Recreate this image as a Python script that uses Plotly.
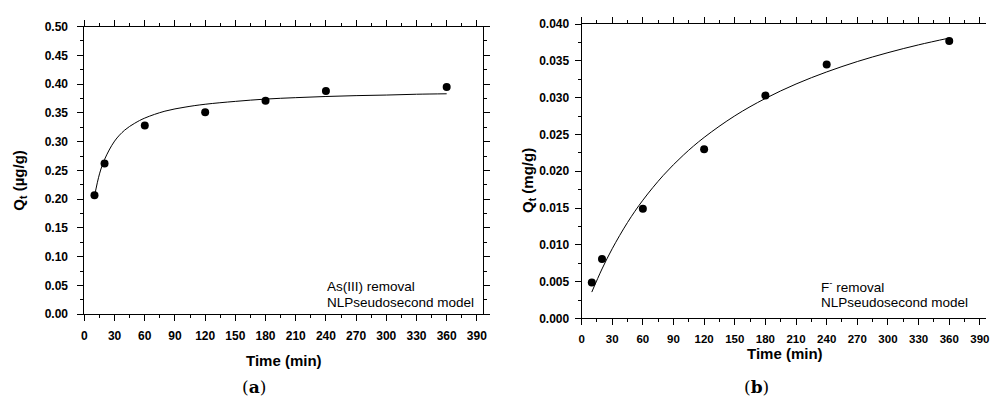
import plotly.graph_objects as go

# ---- data ----
t_pts = [10, 20, 60, 120, 180, 240, 360]
q_as = [0.207, 0.262, 0.328, 0.351, 0.371, 0.388, 0.395]
q_f = [0.0049, 0.0081, 0.0149, 0.0230, 0.0303, 0.0345, 0.0377]

t_fit = [10, 15, 20, 30, 40, 50, 60, 80, 100, 120, 150, 180, 210, 240, 270, 300, 330, 360]
q_as_fit = [0.205, 0.244, 0.269, 0.301, 0.320, 0.332, 0.341, 0.353, 0.360, 0.365, 0.370,
            0.374, 0.3765, 0.3785, 0.380, 0.381, 0.3824, 0.3832]
t_fit_f = [10, 20, 30, 45, 60, 80, 100, 120, 150, 180, 210, 240, 270, 300, 330, 360]
q_f_fit = [0.00359, 0.00673, 0.00948, 0.01305, 0.01607, 0.01944, 0.02224, 0.02460, 0.02753,
           0.0299, 0.03186, 0.0335, 0.03491, 0.03612, 0.03718, 0.0381]

x_ticks = list(range(0, 391, 30))

W, H = 990, 403
SANS = "Liberation Sans"

fig = go.Figure()
fig.add_trace(go.Scatter(x=t_fit, y=q_as_fit, mode="lines", line=dict(color="black", width=1, shape="spline"),
                         xaxis="x", yaxis="y", showlegend=False, hoverinfo="skip"))
fig.add_trace(go.Scatter(x=t_pts, y=q_as, mode="markers", marker=dict(color="black", size=8),
                         xaxis="x", yaxis="y", showlegend=False))
fig.add_trace(go.Scatter(x=t_fit_f, y=q_f_fit, mode="lines", line=dict(color="black", width=1, shape="spline"),
                         xaxis="x2", yaxis="y2", showlegend=False, hoverinfo="skip"))
fig.add_trace(go.Scatter(x=t_pts, y=q_f, mode="markers", marker=dict(color="black", size=8),
                         xaxis="x2", yaxis="y2", showlegend=False))

def tf(size):
    return dict(family=SANS, size=size, color="black", weight="bold")

def xax(domain, anchor, fsize):
    return dict(domain=domain, anchor=anchor, range=[0, 396], tickmode="array", tickvals=x_ticks,
                showline=True, linecolor="black", linewidth=1, mirror="ticks",
                ticks="outside", ticklen=6, tickcolor="black", tickwidth=1,
                minor=dict(ticks="outside", ticklen=3, dtick=15, tick0=0, tickcolor="black"),
                showgrid=False, zeroline=False, tickfont=tf(fsize), ticklabelstandoff=4)

def yax(domain, anchor, rng, dtick, mdtick, fmt, mirror, standoff):
    return dict(domain=domain, anchor=anchor, range=rng, dtick=dtick, tick0=0, tickformat=fmt,
                showline=True, linecolor="black", linewidth=1, mirror=mirror,
                ticks="outside", ticklen=6, tickcolor="black", tickwidth=1,
                minor=dict(ticks="outside", ticklen=3, dtick=mdtick, tick0=0, tickcolor="black"),
                showgrid=False, zeroline=False, tickfont=tf(12), ticklabelstandoff=standoff)

fig.update_layout(
    width=W, height=H, margin=dict(l=0, r=0, t=0, b=0),
    paper_bgcolor="white", plot_bgcolor="white",
    xaxis=xax([82 / W, 483.3 / W], "y", 12),
    yaxis=yax([(H - 318.3) / H, (H - 20.3) / H], "x", [0, 0.5], 0.05, 0.025, ".2f", "ticks", 7),
    xaxis2=xax([582.7 / W, 1.0], "y2", 11.5),
    yaxis2=yax([(H - 322.7) / H, (H - 17.7) / H], "x2", [0, 0.04], 0.005, 0.0025, ".3f", False, 3),
)

def ann(text, x, y, size, family=SANS, bold=False, angle=0, xanchor="center"):
    fig.add_annotation(text=text, x=x / W, y=1 - y / H, xref="paper", yref="paper",
                       showarrow=False, textangle=angle, xanchor=xanchor, yanchor="middle",
                       font=dict(family=family, size=size, color="black", weight="bold" if bold else "normal"))

# axis titles
ann("Time (min)", 283, 366, 15, bold=True)
ann("Time (min)", 788, 359, 15, bold=True)
ann("Q<sub>t</sub> (µg/g)", 17, 180, 15, bold=True, angle=-90)
ann("Q<sub>t</sub> (mg/g)", 529, 180, 15, bold=True, angle=-90)

# in-plot labels
ann("As(III) removal", 324, 289.3, 13.5, xanchor="left")
ann("NLPseudosecond model", 324, 306, 13.5, xanchor="left")
ann("F<sup>-</sup> removal", 822, 289.3, 13.5, xanchor="left")
ann("NLPseudosecond model", 822, 306.5, 13.5, xanchor="left")

# panel captions
ann("(<b>a</b>)", 253, 394, 17, family="DejaVu Serif")
ann("(<b>b</b>)", 759, 394, 17, family="DejaVu Serif")

fig.write_html("out.html")
